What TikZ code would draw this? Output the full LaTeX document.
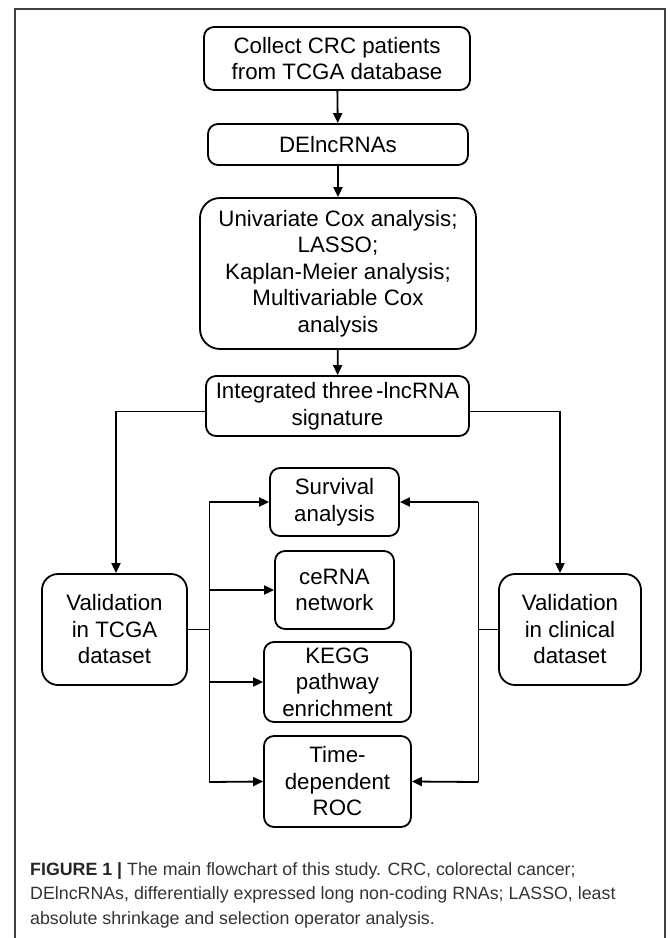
\documentclass[tikz,border=0pt]{standalone}
\usepackage{fontspec}
\setmainfont{Liberation Sans}
\usetikzlibrary{arrows.meta}

\begin{document}
\begin{tikzpicture}[x=1pt,y=-1pt]
\tikzset{box/.style={draw,line width=1.8pt,rounded corners=10pt,align=center,inner sep=0pt,font=\fontsize{22.3}{26.5}\selectfont},
arr/.style={line width=1.8pt,-{Triangle[length=10pt,width=9pt]}},
link/.style={line width=1pt}}
\useasboundingbox (0,0) rectangle (670,938);
\draw[line width=1.2pt,black!75] (15,938) -- (15,9) -- (665,9) -- (665,938);
\node[box,minimum width=266pt,minimum height=63pt] (collect) at (337,58.5) {Collect CRC patients\\from TCGA database};
\node[box,minimum width=260pt,minimum height=41pt] (delnc) at (338,144.5) {DElncRNAs};
\node[box,rounded corners=20pt,minimum width=276pt,minimum height=151pt] (methods) at (338,273.5) {Univariate Cox analysis;\\LASSO;\\Kaplan-Meier analysis;\\Multivariable Cox\\analysis};
\node[box,minimum width=263pt,minimum height=60pt] (sig) at (337.5,406) {Integrated three\hspace{3pt}-lncRNA\\signature};
\node[box,rounded corners=16pt,minimum width=145pt,minimum height=111pt] (valt) at (114.5,629.5) {Validation\\in TCGA\\dataset};
\node[box,rounded corners=16pt,minimum width=142pt,minimum height=111pt] (valc) at (570,629.5) {Validation\\in clinical\\dataset};
\node[box,minimum width=129pt,minimum height=68pt] (surv) at (334.5,502) {Survival\\analysis};
\node[box,minimum width=119pt,minimum height=78pt] (cerna) at (334.5,590) {ceRNA\\network};
\node[box,minimum width=147pt,minimum height=80pt] (kegg) at (337.5,682) {KEGG\\pathway\\enrichment};
\node[box,minimum width=147pt,minimum height=91pt] (roc) at (337.5,781.5) {Time-\\dependent\\ROC};
\node[anchor=north west,align=left,inner sep=0pt,text=black!80,font=\fontsize{17.8}{24.5}\selectfont] (caption) at (30,862)
{\textbf{\color{black!85}FIGURE 1 |} The main flowchart of this study. CRC, colorectal cancer;\\
DElncRNAs, differentially expressed long non-coding RNAs; LASSO, least\\
absolute shrinkage and selection operator analysis.};
\draw[arr] (collect) -- (delnc);
\draw[arr] (delnc) -- (methods);
\draw[arr] (methods) -- (sig);
\coordinate (lcorner) at (116,411);
\coordinate (rcorner) at (560,411);
\coordinate (ltop) at (209,502);
\coordinate (lbot) at (209,782);
\coordinate (rtop) at (478,502);
\coordinate (rbot) at (478,782);
\draw[link] ([yshift=-5pt]sig.west) -- (lcorner);
\draw[link] ([yshift=-5pt]sig.east) -- (rcorner);
\draw[arr] (lcorner) -- (lcorner |- valt.north);
\draw[arr] (rcorner) -- (rcorner |- valc.north);
\draw[link] (ltop) -- (lbot);
\draw[link] (rtop) -- (rbot);
\draw[link] (valt.east) -- (valt.east -| ltop);
\draw[link] (valc.west) -- (valc.west -| rtop);
\draw[arr] (ltop) -- (surv.west);
\draw[arr] (ltop |- cerna.west) -- (cerna.west);
\draw[arr] (ltop |- kegg.west) -- (kegg.west);
\draw[arr] (lbot) -- (roc.west);
\draw[arr] (rtop) -- (surv.east);
\draw[arr] (rbot) -- (roc.east);
\end{tikzpicture}
\end{document}
